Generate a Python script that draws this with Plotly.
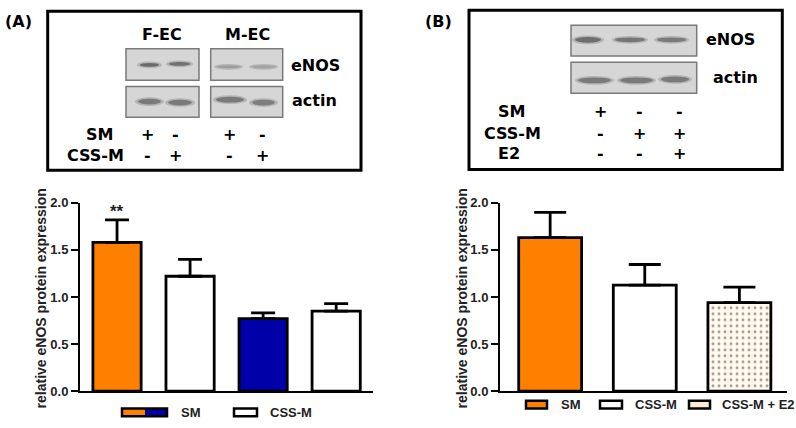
import plotly.graph_objects as go

W, H = 796, 428

# ---------------- data ----------------
a_groups = ["F-EC SM", "F-EC CSS-M", "M-EC SM", "M-EC CSS-M"]
a_means = [1.58, 1.22, 0.77, 0.85]
a_sem = [0.24, 0.18, 0.06, 0.08]
b_groups = ["SM", "CSS-M", "CSS-M + E2"]
b_means = [1.63, 1.125, 0.94]
b_sem = [0.27, 0.22, 0.165]
y_ticks = [0.0, 0.5, 1.0, 1.5, 2.0]
a_sig = ["**", "", "", ""]
a_sm = ["+", "-", "+", "-"]
a_css = ["-", "+", "-", "+"]
b_sm = ["+", "-", "-"]
b_css = ["-", "+", "+"]
b_e2 = ["-", "-", "+"]

ORANGE = "#FF8000"
BLUE = "#0000A8"
LIGHT = "#FFF9EE"


def px(x):
    return x / W


def py(y):
    return 1 - y / H


fig = go.Figure()

fig.add_trace(go.Bar(
    x=list(range(len(a_means))), y=a_means, width=0.66,
    marker=dict(color=[ORANGE, "white", BLUE, "white"], line=dict(color="black", width=2.8)),
    error_y=dict(type="data", symmetric=False, array=a_sem, arrayminus=[0] * len(a_sem),
                 color="black", thickness=2.8, width=12),
    xaxis="x", yaxis="y", showlegend=False, hoverinfo="skip"))

fig.add_trace(go.Bar(
    x=list(range(len(b_means))), y=b_means, width=0.665,
    marker=dict(color=[ORANGE, "white", LIGHT], line=dict(color="black", width=2.8),
                pattern=dict(shape=["", "", "."], fgcolor="#F4B860", bgcolor=LIGHT,
                             size=6, solidity=0.18)),
    error_y=dict(type="data", symmetric=False, array=b_sem, arrayminus=[0] * len(b_sem),
                 color="black", thickness=2.8, width=16),
    xaxis="x2", yaxis="y2", showlegend=False, hoverinfo="skip"))

tickfont = dict(family="Liberation Sans, Arial", size=13, color="#222", weight="bold")
yax = dict(range=[0, 2.0], tickvals=y_ticks, tickformat=".1f", showline=True, linewidth=2,
           linecolor="black", ticks="outside", tickwidth=2, ticklen=7, tickcolor="black",
           showgrid=False, zeroline=False, tickfont=tickfont, fixedrange=True,
           domain=[py(398), py(203)])
xax = dict(showline=True, linewidth=2, linecolor="black", showticklabels=False, ticks="",
           showgrid=False, zeroline=False, fixedrange=True)

fig.update_layout(
    width=W, height=H, autosize=False, margin=dict(l=0, r=0, t=0, b=0),
    paper_bgcolor="white", plot_bgcolor="white", barmode="overlay",
    xaxis=dict(xax, domain=[px(80), px(372.7)], range=[-0.507, 3.5]),
    yaxis=dict(yax, anchor="x"),
    xaxis2=dict(xax, domain=[px(500), px(786.7)], range=[-0.53, 2.5]),
    yaxis2=dict(yax, anchor="x2"),
)

ann = []
shapes = []


def text(t, x, y, font, anchor="center", angle=0):
    ann.append(dict(text=t, x=px(x), y=py(y), xref="paper", yref="paper", xanchor=anchor,
                    yanchor="middle", textangle=angle, showarrow=False, font=font))


# axis titles
tfont = dict(family="Liberation Sans, Arial", size=14, color="#222", weight="bold")
text("relative eNOS protein expression", 41, 302, tfont, angle=-90)
text("relative eNOS protein expression", 462, 302, tfont, angle=-90)

# significance marks
for i, s in enumerate(a_sig):
    if s:
        ann.append(dict(text=s, x=i, y=a_means[i] + a_sem[i], xref="x", yref="y",
                        xanchor="center", yanchor="bottom", showarrow=False, yshift=-3,
                        font=dict(family="Liberation Sans, Arial", size=17, color="#222",
                                  weight="bold")))

# ---------- legends ----------
legfont = dict(family="Liberation Sans, Arial", size=13, color="#222", weight="bold")


def swatch(x0, x1, y0, y1, fill):
    shapes.append(dict(type="rect", xref="paper", yref="paper", x0=px(x0), x1=px(x1),
                       y0=py(y1), y1=py(y0), fillcolor=fill, line=dict(color="black", width=2.5)))


# A legend
shapes.append(dict(type="rect", xref="paper", yref="paper", x0=px(122), x1=px(145), y0=py(424),
                   y1=py(416), fillcolor=ORANGE, line=dict(width=0)))
shapes.append(dict(type="rect", xref="paper", yref="paper", x0=px(145), x1=px(167), y0=py(424),
                   y1=py(416), fillcolor=BLUE, line=dict(width=0)))
swatch(122, 167, 416, 424, "rgba(0,0,0,0)")
swatch(234, 257, 416, 424, "white")
text("SM", 179, 420, legfont, "left")
text("CSS-M", 268, 420, legfont, "left")

# B legend
swatch(526, 547, 408, 416, ORANGE)
swatch(600, 622, 408, 416, "white")
swatch(689, 710, 408, 416, "#FCEBD2")
for t, xl in zip(b_groups, (559, 633, 720)):
    text(t, xl, 412, legfont, "left")

# ---------- panel letters ----------
pfont = dict(family="DejaVu Sans", size=16, color="black", weight="bold")
text("(A)", 18, 15, pfont)
text("(B)", 438, 15, pfont)

# ---------- blot boxes ----------
for x0, x1, y0, y1 in ((47.7, 361, 4.3, 169.3), (469, 782.3, 3.3, 168.3)):
    shapes.append(dict(type="rect", xref="paper", yref="paper", x0=px(x0), x1=px(x1), y0=py(y1),
                       y1=py(y0), line=dict(color="black", width=3), fillcolor="rgba(0,0,0,0)"))


def blot(x0, x1, y0, y1):
    shapes.append(dict(type="rect", xref="paper", yref="paper", x0=px(x0), x1=px(x1), y0=py(y1),
                       y1=py(y0), line=dict(color="#7a7a7a", width=1.5), fillcolor="#D6D6D6"))


def band(x0, x1, yc, h, color):
    shapes.append(dict(type="circle", xref="paper", yref="paper", x0=px(x0 - 1), x1=px(x1 + 1),
                       y0=py(yc + h / 2 + 1.5), y1=py(yc - h / 2 - 1.5), line=dict(width=0),
                       fillcolor="#B4B4B4"))
    shapes.append(dict(type="circle", xref="paper", yref="paper", x0=px(x0 + 2), x1=px(x1 - 2),
                       y0=py(yc + h / 2), y1=py(yc - h / 2), line=dict(width=0), fillcolor=color))


# panel A blots
blot(126, 199, 43.3, 76)
blot(126, 199, 82.3, 114.3)
blot(210.7, 282.7, 43.3, 76)
blot(210.7, 282.7, 82.3, 114.3)
band(138, 161, 60, 4, "#6a6a6a")
band(167, 192, 59, 4, "#707070")
band(215, 242, 62, 3, "#9c9c9c")
band(250, 277, 62, 3, "#a2a2a2")
band(136, 163, 98, 6, "#7a7a7a")
band(166, 194, 99, 6, "#7a7a7a")
band(214, 246, 96, 6, "#7a7a7a")
band(250, 277, 99, 6, "#7e7e7e")

# panel B blots
blot(571, 696.7, 19, 50.7)
blot(571, 696.7, 57.3, 89.3)
band(573, 603, 34, 6, "#6e6e6e")
band(613, 647, 34, 5, "#767676")
band(655, 688, 34, 5, "#7a7a7a")
band(576, 613, 76, 6, "#7a7a7a")
band(618, 655, 76, 6, "#7a7a7a")
band(659, 691, 75, 6, "#7a7a7a")

bfont = dict(family="DejaVu Sans", size=16, color="black", weight="bold")

text("F-EC", 162, 29, bfont)
text("M-EC", 247, 29, bfont)
text("eNOS", 289, 61, bfont, "left")
text("actin", 290, 97, bfont, "left")
text("SM", 99, 132, bfont)
text("CSS-M", 95, 154, bfont)
for xl, s1, s2 in zip((147.7, 175, 229, 262.3), a_sm, a_css):
    text(s1, xl, 132, bfont)
    text(s2, xl, 154, bfont)

text("eNOS", 704, 34, bfont, "left")
text("actin", 711, 73, bfont, "left")
text("SM", 511, 108, bfont)
text("CSS-M", 512, 131, bfont)
text("E2", 509, 152, bfont)
for xl, s1, s2, s3 in zip((600, 639, 679.3), b_sm, b_css, b_e2):
    text(s1, xl, 108, bfont)
    text(s2, xl, 131, bfont)
    text(s3, xl, 152, bfont)

fig.update_layout(annotations=ann, shapes=shapes)
fig.write_html("out.html", config={"displayModeBar": False},
               post_script="document.body.style.margin='0';document.body.style.overflow='hidden';")
